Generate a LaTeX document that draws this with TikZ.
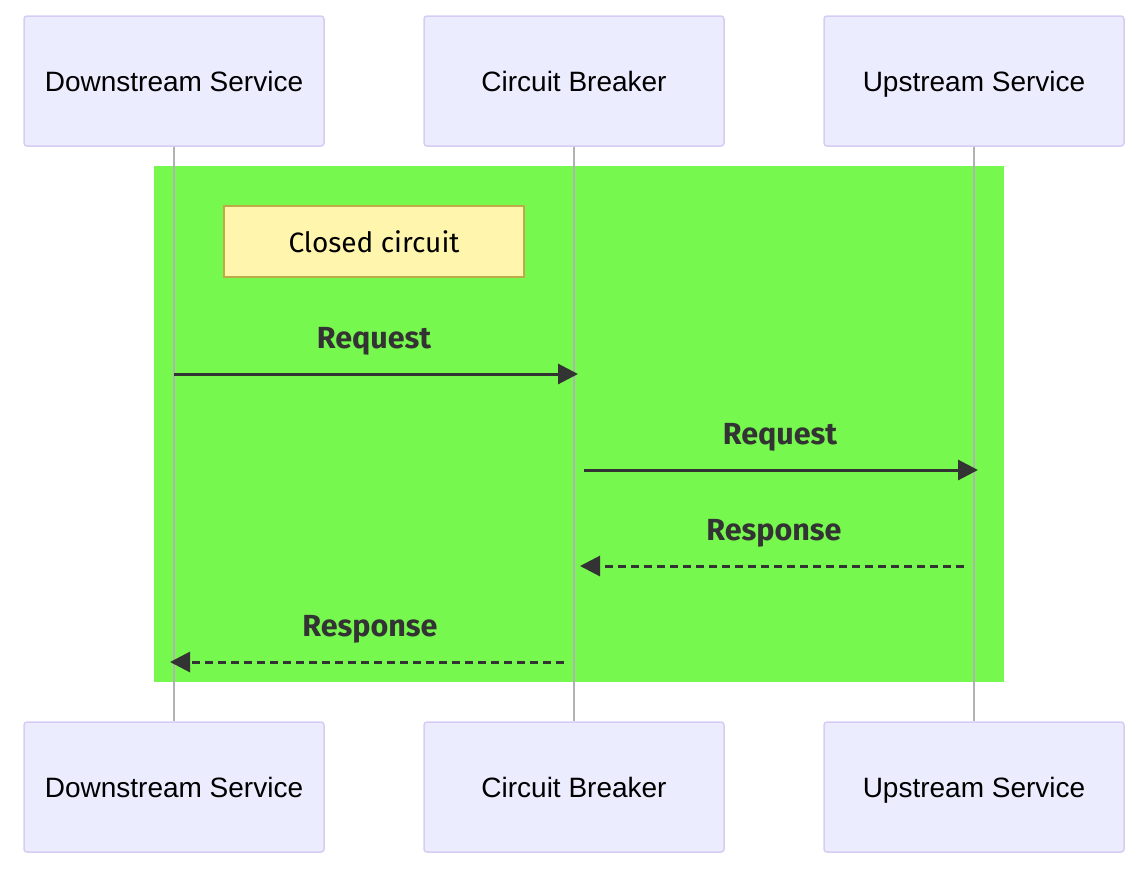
\documentclass[tikz,border=0pt]{standalone}
\usepackage{fontspec}
\setmainfont{Liberation Sans}
\newfontfamily\msgfont{Fira Sans}
\usetikzlibrary{arrows.meta}

\definecolor{actorfill}{RGB}{236,236,255}
\definecolor{actorline}{RGB}{214,204,244}
\definecolor{loopgreen}{RGB}{119,248,79}
\definecolor{notefill}{RGB}{255,245,173}
\definecolor{noteline}{RGB}{190,170,70}
\definecolor{msgdark}{RGB}{51,51,51}

\tikzset{
  actor/.style={draw=actorline, fill=actorfill, line width=1.5pt, rounded corners=3pt,
    minimum width=300pt, minimum height=130pt, inner sep=0pt,
    text height=21.5pt, text depth=0pt,
    font=\fontsize{28}{32}\selectfont},
  lifeline/.style={draw=black!30, line width=1.5pt},
  notebox/.style={draw=noteline, fill=notefill, line width=1.5pt,
    minimum width=300pt, minimum height=71pt, inner sep=0pt,
    font=\msgfont\fontsize{28}{32}\selectfont},
  msg/.style={draw=msgdark, line width=3pt, -{Triangle[length=20pt,width=20pt]}},
  reply/.style={msg, dash pattern=on 8pt off 5pt},
  msglabel/.style={text=msgdark, inner sep=0pt, anchor=base,
    font=\msgfont\bfseries\fontsize{30.5}{34}\selectfont}
}

\begin{document}
\begin{tikzpicture}[x=1pt,y=-1pt]
\useasboundingbox (0,0) rectangle (1140,868);
% loop area
\fill[loopgreen] (154,166) rectangle (1004,682);

% participants
\node[actor] (dtop) at (174,81) {Downstream Service};
\node[actor] (ctop) at (574,81) {Circuit Breaker};
\node[actor] (utop) at (974,81) {Upstream Service};
\node[actor] (dbot) at (174,787) {Downstream Service};
\node[actor] (cbot) at (574,787) {Circuit Breaker};
\node[actor] (ubot) at (974,787) {Upstream Service};

\draw[lifeline] (dtop) -- (dbot);
\draw[lifeline] (ctop) -- (cbot);
\draw[lifeline] (utop) -- (ubot);

\node[notebox] (closed) at (374,241.5) {Closed circuit};

% message ends
\coordinate (d1) at (174,374);
\coordinate (c1) at (578,374);
\coordinate (c2) at (584,470);
\coordinate (u2) at (978,470);
\coordinate (u3) at (964,566);
\coordinate (c3) at (580,566);
\coordinate (c4) at (564,662);
\coordinate (d4) at (170,662);

\draw[msg] (d1) -- (c1);
\node[msglabel] (req1) at (374,348) {Request};
\draw[msg] (c2) -- (u2);
\node[msglabel] (req2) at (780,444) {Request};
\draw[reply] (u3) -- (c3);
\node[msglabel] (resp1) at (774,540) {Response};
\draw[reply] (c4) -- (d4);
\node[msglabel] (resp2) at (370,636) {Response};
\end{tikzpicture}
\end{document}
